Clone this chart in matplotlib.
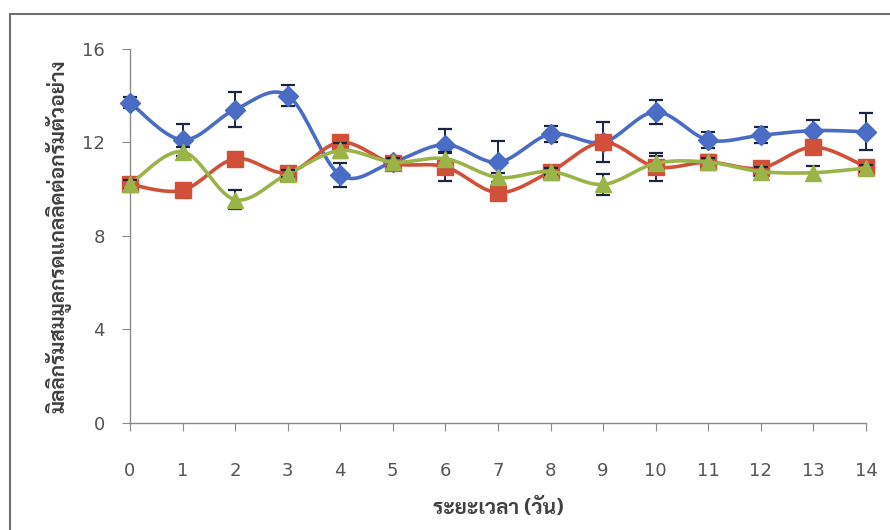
import numpy as np
import matplotlib
matplotlib.use('Agg')
from matplotlib import pyplot as plt
from matplotlib.patches import Rectangle

plt.rcParams['font.family'] = ['DejaVu Sans']

days = list(range(15))
blue_vals = [13.7, 12.1, 13.4, 14.0, 10.6, 11.15, 11.9, 11.15, 12.35, 12.0, 13.3, 12.1, 12.3, 12.5, 12.45]
blue_err = [0.25, 0.7, 0.75, 0.45, 0.5, 0.2, 0.65, 0.9, 0.35, 0.85, 0.5, 0.35, 0.35, 0.45, 0.8]
red_vals = [10.2, 9.95, 11.3, 10.7, 12.0, 11.1, 10.95, 9.85, 10.75, 12.0, 10.95, 11.15, 10.9, 11.8, 10.95]
red_err = [0.2, 0.2, 0.2, 0.2, 0.25, 0.2, 0.6, 0.2, 0.2, 0.25, 0.6, 0.3, 0.25, 0.3, 0.2]
green_vals = [10.2, 11.6, 9.55, 10.65, 11.65, 11.15, 11.3, 10.5, 10.75, 10.2, 11.1, 11.15, 10.75, 10.7, 10.9]
green_err = [0.2, 0.2, 0.4, 0.15, 0.3, 0.2, 0.3, 0.2, 0.15, 0.45, 0.3, 0.2, 0.2, 0.3, 0.15]

x_label = 'ระยะเวลา (วัน)'
y_label = 'มิลลิกรัมสมมูลกรดแกลลิคต่อกรัมตัวอย่าง'
thai_font = ['Sarabun', 'DejaVu Sans']


def smooth(xs, ys, steps=20):
    # bezier through the points, like the "smoothed line" option of a spreadsheet
    xs = np.asarray(xs, float)
    ys = np.asarray(ys, float)
    px, py = [], []
    n = len(xs)
    for i in range(n - 1):
        x0, y0 = xs[max(i - 1, 0)], ys[max(i - 1, 0)]
        x1, y1 = xs[i], ys[i]
        x2, y2 = xs[i + 1], ys[i + 1]
        x3, y3 = xs[min(i + 2, n - 1)], ys[min(i + 2, n - 1)]
        c1 = (x1 + (x2 - x0) / 6, y1 + (y2 - y0) / 6)
        c2 = (x2 - (x3 - x1) / 6, y2 - (y3 - y1) / 6)
        t = np.linspace(0, 1, steps, endpoint=(i == n - 2))
        a, b, c, d = (1 - t) ** 3, 3 * t * (1 - t) ** 2, 3 * t ** 2 * (1 - t), t ** 3
        px.extend(a * x1 + b * c1[0] + c * c2[0] + d * x2)
        py.extend(a * y1 + b * c1[1] + c * c2[1] + d * y2)
    return px, py


fig = plt.figure(figsize=(8.9, 5.3), dpi=100)
ax = fig.add_axes([0.146, 0.202, 0.827, 0.706])

series = [
    (blue_vals, blue_err, '#4a6cc4', 'D', 10),
    (red_vals, red_err, '#d0503a', 's', 11),
    (green_vals, green_err, '#9bb44a', '^', 11),
]
for z, (vals, err, color, marker, ms) in enumerate(series):
    sx, sy = smooth(days, vals)
    ax.plot(sx, sy, color=color, linewidth=2.6, zorder=3 + z, clip_on=False)
    ax.errorbar(days, vals, yerr=err, fmt='none', ecolor='#1c2540', elinewidth=1.4,
                capsize=5, capthick=1.6, zorder=3 + z, clip_on=False)
    ax.plot(days, vals, linestyle='none', marker=marker, markersize=ms, color=color,
            markeredgecolor=color, zorder=3 + z, clip_on=False)

ax.set_xlim(0, 14)
ax.set_ylim(0, 16)
ax.set_xticks(days)
ax.set_yticks([0, 4, 8, 12, 16])
for side in ['top', 'right']:
    ax.spines[side].set_visible(False)
for side in ['left', 'bottom']:
    ax.spines[side].set_color('#8a8a8a')
    ax.spines[side].set_linewidth(1.0)
ax.tick_params(axis='both', direction='out', color='#8a8a8a', labelcolor='#555555',
               labelsize=13)
ax.tick_params(axis='x', length=6, pad=22)
ax.tick_params(axis='y', length=6, pad=12)

ax.set_xlabel(x_label, family=thai_font, fontsize=15, fontweight='bold', color='#404040',
              labelpad=13)
ax.set_ylabel(y_label, family=thai_font, fontsize=15, fontweight='bold', color='#404040',
              labelpad=8)

fig.patches.append(Rectangle((0.011, -0.01), 1.2, 0.984, transform=fig.transFigure,
                             fill=False, edgecolor='#707070', linewidth=1.5))

fig.savefig('out.png')
